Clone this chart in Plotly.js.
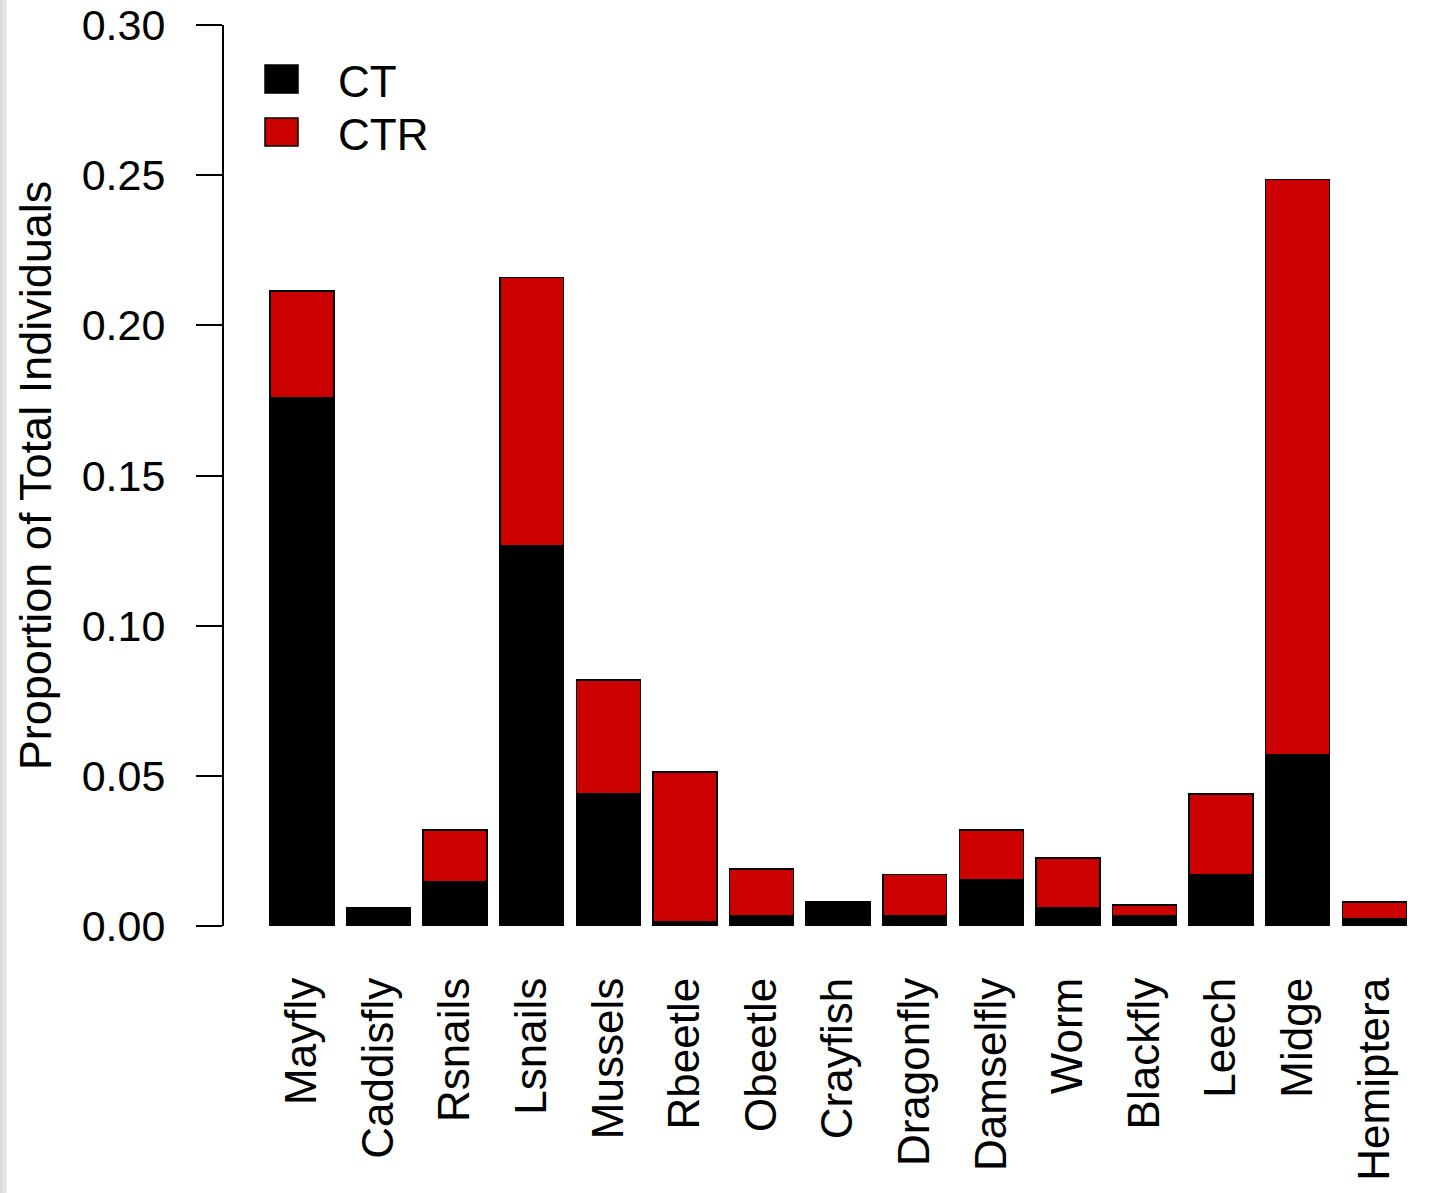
<!DOCTYPE html>
<html>
<head>
<meta charset="utf-8">
<script src="https://cdn.plot.ly/plotly-3.0.1.min.js"></script>
<style>
  html, body { margin: 0; padding: 0; background: #fff; }
  #wrap { position: relative; width: 1431px; height: 1193px; }
  #edge { position: absolute; left: 0; top: 0; width: 7px; height: 1193px; background: linear-gradient(to right, #d8d8d8, #ececec); z-index: 2; }
  #chart { width: 1431px; height: 1193px; }
</style>
</head>
<body>
<div id="wrap"><div id="edge"></div><div id="chart"></div></div>
<script>
const categories = ["Mayfly","Caddisfly","Rsnails","Lsnails","Mussels","Rbeetle","Obeetle","Crayfish","Dragonfly","Damselfly","Worm","Blackfly","Leech","Midge","Hemiptera"];
const ctValues  = [0.176, 0.0061, 0.0146, 0.1265, 0.0439, 0.0014, 0.0033, 0.0080, 0.0033, 0.0154, 0.0061, 0.0033, 0.0171, 0.0570, 0.0023];
const ctrValues = [0.0354, 0.0, 0.0174, 0.0895, 0.0380, 0.0499, 0.0157, 0.0, 0.0138, 0.0166, 0.0165, 0.0037, 0.0268, 0.1915, 0.0057];
const seriesNames = ["CT", "CTR"];
const seriesColors = ["#000000", "#CD0000"];
const yTicks = [0, 0.05, 0.10, 0.15, 0.20, 0.25, 0.30];
const yTickLabels = ["0.00", "0.05", "0.10", "0.15", "0.20", "0.25", "0.30"];

const FONT = "Liberation Sans, Arial, sans-serif";
const FS = 43;

const traces = [ctValues, ctrValues].map((vals, i) => ({
  type: "bar",
  name: seriesNames[i],
  x: categories,
  y: vals,
  marker: { color: seriesColors[i], line: { color: "#000", width: 1.5 } },
  showlegend: false,
  hoverinfo: "x+y+name"
}));

const legendShapes = [];
const legendAnn = [];
const legTop = [65, 118];
seriesNames.forEach((n, i) => {
  legendShapes.push({
    type: "rect", xref: "paper", yref: "paper",
    x0: (265 - 224) / 1207, x1: (298 - 224) / 1207,
    y0: 1 - (legTop[i] + 28 - 25) / 901, y1: 1 - (legTop[i] - 25) / 901,
    fillcolor: seriesColors[i], line: { color: "#000", width: 1.5 }
  });
  legendAnn.push({
    xref: "paper", yref: "paper", showarrow: false,
    x: (336 - 224) / 1207, y: 1 - (legTop[i] + 17 - 25) / 901,
    xanchor: "left", yanchor: "middle",
    text: n, font: { family: FONT, size: 44, color: "#000" }
  });
});

const layout = {
  width: 1431, height: 1193,
  margin: { l: 224, r: 0, t: 25, b: 267, pad: 0 },
  paper_bgcolor: "#fff", plot_bgcolor: "#fff",
  barmode: "stack",
  bargap: 0.165,
  font: { family: FONT, size: FS, color: "#000" },
  xaxis: {
    type: "category",
    range: [-1.018, 14.74],
    showline: false, showgrid: false, zeroline: false,
    ticks: "", tickangle: -90,
    ticklabelstandoff: 42,
    tickfont: { family: FONT, size: 44, color: "#000" },
    automargin: false
  },
  yaxis: {
    range: [0, 0.30],
    tickmode: "array", tickvals: yTicks, ticktext: yTickLabels,
    showline: true, linecolor: "#000", linewidth: 2,
    ticks: "outside", ticklen: 26, tickwidth: 2, tickcolor: "#000",
    ticklabelstandoff: 22,
    showgrid: false, zeroline: false,
    tickfont: { family: FONT, size: FS, color: "#000" },
    title: { text: "Proportion of Total Individuals", font: { family: FONT, size: 45, color: "#000" }, standoff: 16 },
    automargin: false
  },
  shapes: legendShapes,
  annotations: legendAnn
};

Plotly.newPlot("chart", traces, layout, { displayModeBar: false, staticPlot: true });
</script>
</body>
</html>
